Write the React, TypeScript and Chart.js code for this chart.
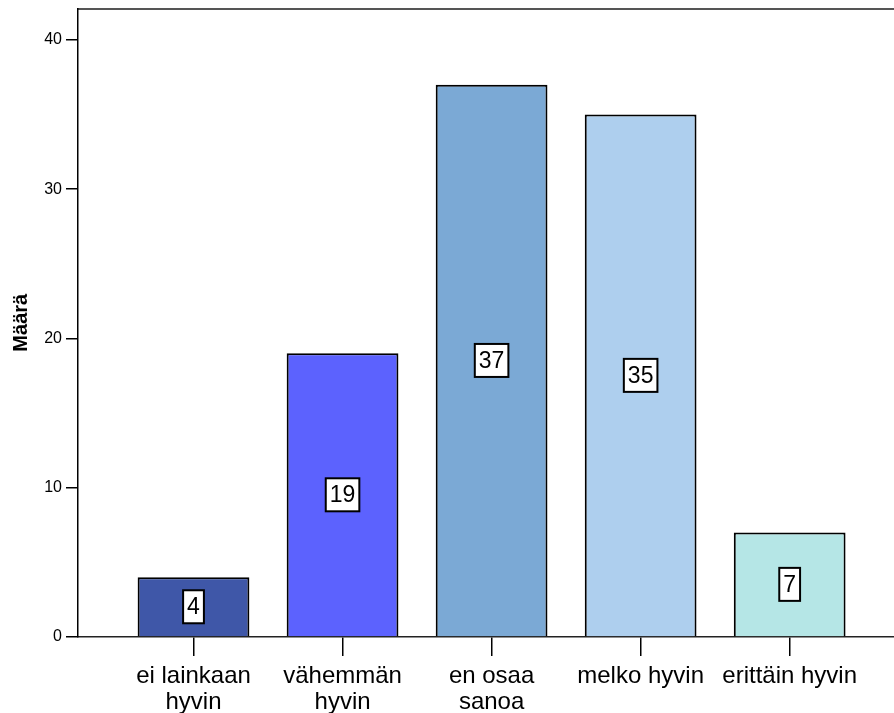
import React, { useEffect, useRef } from "react";
import { Chart, registerables } from "chart.js";

Chart.register(...registerables);

const categories: string[][] = [
  ["ei lainkaan", "hyvin"],
  ["vähemmän", "hyvin"],
  ["en osaa", "sanoa"],
  ["melko hyvin"],
  ["erittäin hyvin"],
];
const counts: number[] = [4, 19, 37, 35, 7];
const barColors: string[] = ["#3F57A8", "#5C62FE", "#7BA9D5", "#AECFEE", "#B5E6E6"];
const yAxisTitle = "Määrä";
const yMax = 42.1;
const yStep = 10;

const FONT = "'Liberation Sans', Arial, sans-serif";

const labelPlugin = {
  id: "boxLabels",
  afterDatasetsDraw(chart: any) {
    const ctx = chart.ctx;
    const meta = chart.getDatasetMeta(0);
    ctx.save();
    ctx.font = `23px ${FONT}`;
    ctx.textAlign = "center";
    ctx.textBaseline = "middle";
    meta.data.forEach((el: any, i: number) => {
      const txt = String(counts[i]);
      const tw = ctx.measureText(txt).width;
      const w = tw + 8;
      const h = 33;
      const cx = el.x;
      const cy = (el.y + el.base) / 2;
      ctx.fillStyle = "#fff";
      ctx.fillRect(cx - w / 2, cy - h / 2, w, h);
      ctx.lineWidth = 2;
      ctx.strokeStyle = "#000";
      ctx.strokeRect(cx - w / 2, cy - h / 2, w, h);
      ctx.fillStyle = "#000";
      ctx.fillText(txt, cx, cy + 1);
    });
    ctx.restore();
  },
};

export default function App() {
  const ref = useRef<HTMLCanvasElement | null>(null);
  useEffect(() => {
    if (!ref.current) return;
    const chart = new Chart(ref.current, {
      type: "bar",
      data: {
        datasets: [
          {
            data: counts.map((v, i) => ({ x: i, y: v })),
            backgroundColor: barColors,
            borderColor: "#000",
            borderWidth: 2,
            barPercentage: 0.75,
            categoryPercentage: 1,
          },
        ],
      },
      options: {
        animation: false,
        responsive: true,
        maintainAspectRatio: false,
        layout: { padding: 0 },
        plugins: { legend: { display: false }, tooltip: { enabled: false } },
        scales: {
          x: {
            type: "linear",
            position: "bottom",
            min: -0.775,
            max: 4.7,
            offset: false,
            afterFit: (s: any) => {
              s.height = 76;
              s.paddingLeft = 0;
              s.paddingRight = 0;
            },
            ticks: {
              stepSize: 1,
              includeBounds: false,
              autoSkip: false,
              maxRotation: 0,
              padding: 7,
              color: "#000",
              font: { family: FONT, size: 24, lineHeight: 1.1 },
              callback: (v: any) =>
                Number.isInteger(v) && categories[v] ? categories[v] : "",
            },
            grid: {
              offset: false,
              drawOnChartArea: false,
              tickLength: 19,
              color: "#000",
              lineWidth: 1.5,
            },
            border: { color: "#222", width: 1.5 },
          },
          x2: {
            type: "linear",
            position: "top",
            min: 0,
            max: 1,
            afterFit: (s: any) => {
              s.height = 8.5;
            },
            ticks: { display: false },
            grid: { display: false, drawTicks: false },
            border: { display: true, color: "#555", width: 2 },
          },
          y: {
            min: 0,
            max: yMax,
            afterFit: (s: any) => {
              s.width = 78;
              s.paddingTop = 0;
              s.paddingBottom = 0;
            },
            ticks: {
              stepSize: yStep,
              includeBounds: false,
              padding: 4,
              color: "#000",
              font: { family: FONT, size: 16 },
            },
            grid: {
              drawOnChartArea: false,
              tickLength: 12,
              color: "#000",
              lineWidth: 1.5,
            },
            border: { color: "#000", width: 1.5 },
            title: {
              display: true,
              text: yAxisTitle,
              color: "#000",
              font: { family: FONT, size: 20, weight: "bold" },
              padding: { top: 9, bottom: 4 },
            },
          },
        },
      },
      plugins: [labelPlugin],
    });
    return () => chart.destroy();
  }, []);
  return (
    <div style={{ position: "absolute", left: 0, top: 0, width: 894, height: 713 }}>
      <canvas ref={ref} />
    </div>
  );
}
